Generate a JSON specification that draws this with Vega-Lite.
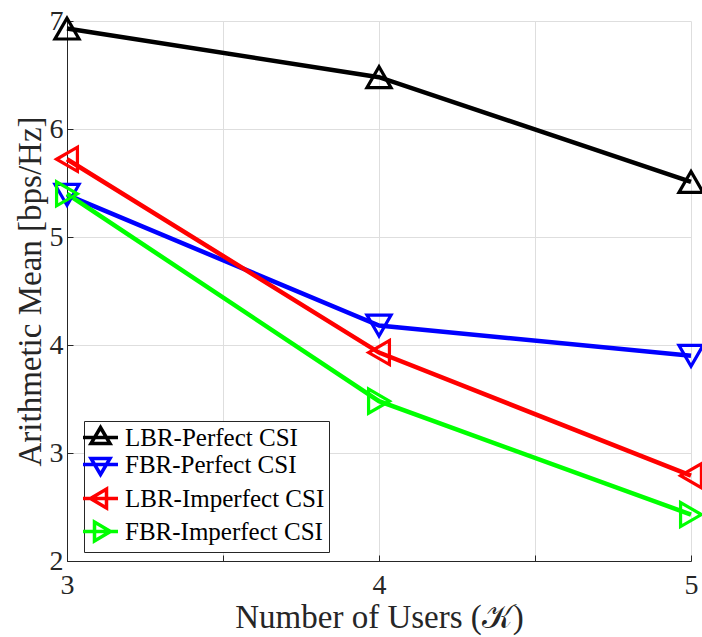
{
  "$schema": "https://vega.github.io/schema/vega-lite/v6.json",
  "width": 624,
  "height": 540,
  "autosize": {"type": "none"},
  "padding": {"left": 67, "top": 21, "right": 11, "bottom": 76},
  "background": "white",
  "config": {
    "view": {"stroke": null},
    "font": "Liberation Serif"
  },
  "data": {
    "values": [
      {"K": 3, "rate": 6.93, "scheme": "LBR-Perfect CSI"},
      {"K": 4, "rate": 6.48, "scheme": "LBR-Perfect CSI"},
      {"K": 5, "rate": 5.51, "scheme": "LBR-Perfect CSI"},
      {"K": 3, "rate": 5.39, "scheme": "FBR-Perfect CSI"},
      {"K": 4, "rate": 4.18, "scheme": "FBR-Perfect CSI"},
      {"K": 5, "rate": 3.90, "scheme": "FBR-Perfect CSI"},
      {"K": 3, "rate": 5.72, "scheme": "LBR-Imperfect CSI"},
      {"K": 4, "rate": 3.93, "scheme": "LBR-Imperfect CSI"},
      {"K": 5, "rate": 2.79, "scheme": "LBR-Imperfect CSI"},
      {"K": 3, "rate": 5.40, "scheme": "FBR-Imperfect CSI"},
      {"K": 4, "rate": 3.48, "scheme": "FBR-Imperfect CSI"},
      {"K": 5, "rate": 2.43, "scheme": "FBR-Imperfect CSI"}
    ]
  },
  "encoding": {
    "x": {
      "field": "K", "type": "quantitative",
      "scale": {"domain": [3, 5], "nice": false, "zero": false},
      "axis": {
        "title": "Number of Users (𝒦)",
        "values": [3, 3.5, 4, 4.5, 5],
        "labelExpr": "datum.value % 1 === 0 ? format(datum.value, 'd') : ''",
        "labelFont": "Liberation Serif", "labelFontSize": 28, "labelColor": "#262626",
        "labelPadding": 16, "labelFlush": false,
        "titleFont": "Liberation Serif", "titleFontSize": 33, "titleFontWeight": "normal", "titleColor": "#262626",
        "titlePadding": 2,
        "domainColor": "#262626", "domainWidth": 1,
        "tickColor": "#262626", "tickSize": -6,
        "grid": true, "gridColor": "#dedede", "gridWidth": 1
      }
    },
    "y": {
      "field": "rate", "type": "quantitative",
      "scale": {"domain": [2, 7], "nice": false, "zero": false},
      "axis": {
        "title": "Arithmetic Mean [bps/Hz]",
        "values": [2, 3, 4, 5, 6, 7],
        "labelFont": "Liberation Serif", "labelFontSize": 28, "labelColor": "#262626",
        "labelPadding": 10,
        "titleFont": "Liberation Serif", "titleFontSize": 33, "titleFontWeight": "normal", "titleColor": "#262626",
        "titlePadding": 2,
        "domainColor": "#262626", "domainWidth": 1,
        "tickColor": "#262626", "tickSize": -6,
        "grid": true, "gridColor": "#dedede", "gridWidth": 1
      }
    },
    "color": {
      "field": "scheme", "type": "nominal",
      "scale": {
        "domain": ["LBR-Perfect CSI", "FBR-Perfect CSI", "LBR-Imperfect CSI", "FBR-Imperfect CSI"],
        "range": ["#000000", "#0000ff", "#ff0000", "#00ff00"]
      },
      "legend": {
        "title": null,
        "orient": "none",
        "legendX": 17,
        "legendY": 400,
        "strokeColor": "#262626",
        "fillColor": "white",
        "padding": 4,
        "labelFont": "Liberation Serif", "labelFontSize": 25, "labelColor": "#000000",
        "symbolSize": 400, "symbolStrokeWidth": 3.5, "symbolOpacity": 1,
        "symbolFillColor": "transparent",
        "rowPadding": 0, "labelOffset": 12, "labelLimit": 300
      }
    }
  },
  "layer": [
    {"mark": {"type": "line", "strokeWidth": 4.5}, "encoding": {}},
    {
      "mark": {"type": "point", "filled": false, "strokeWidth": 3.2, "size": 580, "opacity": 1},
      "encoding": {
        "shape": {
          "condition": [
            {"test": "datum.scheme === 'LBR-Perfect CSI'", "value": "triangle-up"},
            {"test": "datum.scheme === 'FBR-Perfect CSI'", "value": "triangle-down"},
            {"test": "datum.scheme === 'LBR-Imperfect CSI'", "value": "triangle-left"}
          ],
          "value": "triangle-right"
        }
      }
    },
    {
      "mark": {"type": "point", "filled": false, "strokeWidth": 3.5, "size": 400, "opacity": 0},
      "encoding": {
        "shape": {
          "field": "scheme", "type": "nominal",
          "scale": {
            "domain": ["LBR-Perfect CSI", "FBR-Perfect CSI", "LBR-Imperfect CSI", "FBR-Imperfect CSI"],
            "range": [
              "M-1.75,0H1.75M0,-1L0.95,0.6L-0.95,0.6Z",
              "M-1.75,0H1.75M0,1L0.95,-0.6L-0.95,-0.6Z",
              "M-1.75,0H1.75M-1,0L0.6,-0.95L0.6,0.95Z",
              "M-1.75,0H1.75M1,0L-0.6,-0.95L-0.6,0.95Z"
            ]
          },
          "legend": {
            "title": null,
            "orient": "none",
            "legendX": 17,
            "legendY": 400,
            "symbolOpacity": 1
          }
        }
      }
    }
  ]
}
